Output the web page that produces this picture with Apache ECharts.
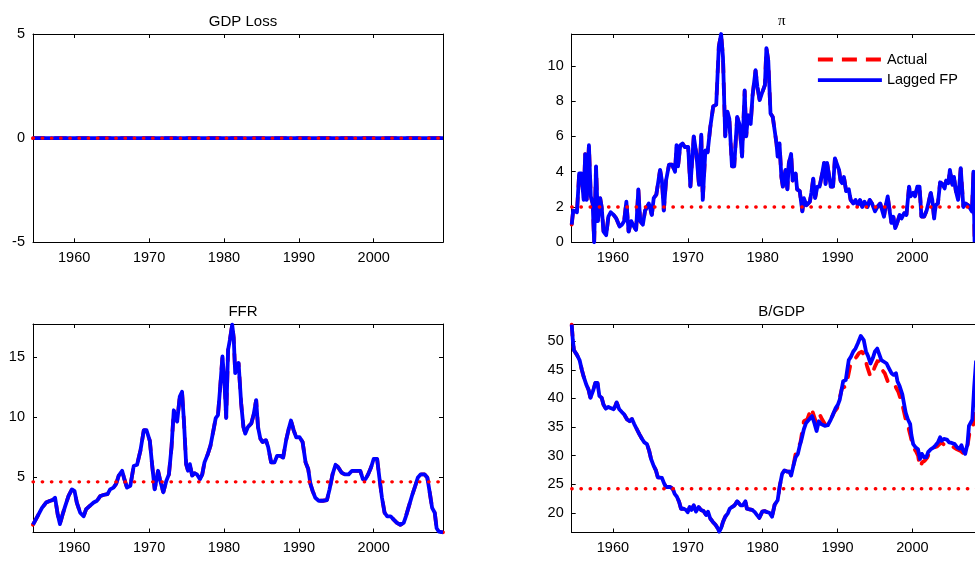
<!DOCTYPE html>
<html>
<head>
<meta charset="utf-8">
<script src="https://cdn.jsdelivr.net/npm/echarts@6/dist/echarts.min.js"></script>
<style>
  html, body { margin: 0; padding: 0; background: #fff; overflow: hidden; }
  /* a bit wider than the window: the right column is cut by the page edge */
  #chart { width: 990px; height: 561px; }
</style>
</head>
<body>
<div id="chart"></div>
<script>
// x range of every panel (quarterly sample)
const xMin = 1954.5;
const xMax = 2009.25;
const yearTicks = [1960, 1970, 1980, 1990, 2000];

const panelTitles = ['GDP Loss', 'π', 'FFR', 'B/GDP'];
const yTicks = [[-5, 0, 5], [0, 2, 4, 6, 8, 10], [5, 10, 15], [20, 25, 30, 35, 40, 45, 50]];
const yRanges = [[-5, 5], [0, 11.8], [0.35, 17.75], [16.55, 53]];
const steadyState = [0, 2, 4.58, 24.2];

// GDP loss: both paths sit at zero
const gdpLoss = [[1954.5, 0], [2009.25, 0]];

// inflation, actual and lagged FP coincide
const piData = [
  [1954.5, 1.0], [1954.7, 1.8], [1955.2, 1.7], [1955.5, 3.9], [1955.8, 3.9], [1956.1, 2.4], [1956.3, 5.0],
  [1956.5, 2.4], [1956.8, 5.5], [1957.05, 2.6], [1957.3, 2.2], [1957.5, 0.0], [1957.75, 4.3], [1958.0, 1.2],
  [1958.3, 2.5], [1958.5, 2.0], [1958.75, 0.6], [1959.1, 0.4], [1959.4, 1.45], [1959.7, 1.7], [1960.1, 1.55],
  [1960.45, 1.35], [1960.9, 0.9], [1961.2, 1.0], [1961.5, 1.2], [1961.8, 2.3], [1962.1, 0.6], [1962.45, 1.2],
  [1962.8, 0.9], [1963.1, 0.7], [1963.4, 3.0], [1963.65, 1.2], [1964.0, 1.0], [1964.3, 1.8], [1964.8, 2.2],
  [1965.2, 1.55], [1965.45, 2.5], [1965.8, 2.7], [1966.3, 4.1], [1966.55, 3.5], [1966.8, 1.8], [1967.1, 3.5],
  [1967.5, 4.4], [1967.9, 4.4], [1968.3, 4.0], [1968.5, 5.5], [1968.7, 4.3], [1969.0, 5.5], [1969.3, 5.6],
  [1969.6, 5.4], [1969.8, 5.5], [1970.05, 5.4], [1970.35, 3.15], [1970.8, 6.0], [1971.15, 5.0], [1971.5, 3.25],
  [1971.8, 6.1], [1972.0, 2.4], [1972.35, 5.2], [1972.65, 5.1], [1973.0, 6.5], [1973.4, 7.7], [1973.8, 7.8],
  [1974.15, 11.1], [1974.45, 11.8], [1974.7, 10.5], [1975.0, 6.0], [1975.3, 7.4], [1975.55, 7.0], [1975.9, 4.3],
  [1976.2, 4.3], [1976.6, 7.1], [1976.9, 6.7], [1977.25, 4.85], [1977.6, 8.6], [1977.8, 6.0], [1978.05, 7.2],
  [1978.4, 6.7], [1978.65, 8.3], [1978.9, 8.25], [1979.05, 9.75], [1979.3, 8.8], [1979.6, 8.05], [1979.95, 8.5],
  [1980.3, 8.9], [1980.5, 11.0], [1980.75, 10.3], [1981.05, 7.3], [1981.35, 7.1], [1981.6, 7.1], [1981.85, 5.6],
  [1982.0, 4.85], [1982.25, 5.6], [1982.5, 3.7], [1982.7, 3.15], [1983.05, 4.1], [1983.3, 3.0], [1983.5, 4.5],
  [1983.8, 5.0], [1984.0, 3.5], [1984.4, 3.9], [1984.6, 3.0], [1984.95, 2.9], [1985.3, 1.75], [1985.5, 2.5],
  [1985.85, 2.1], [1986.3, 2.3], [1986.5, 2.8], [1986.75, 3.6], [1987.0, 2.5], [1987.3, 3.15], [1987.6, 3.15],
  [1987.95, 3.9], [1988.2, 4.5], [1988.4, 3.3], [1988.6, 4.5], [1988.85, 4.5], [1989.1, 3.15], [1989.4, 3.15],
  [1989.65, 4.75], [1989.9, 4.75], [1990.2, 4.1], [1990.4, 3.5], [1990.6, 3.35], [1990.85, 3.7], [1991.15, 2.9],
  [1991.5, 3.0], [1991.75, 2.4], [1992.1, 2.2], [1992.4, 2.4], [1992.7, 2.1], [1993.0, 2.4], [1993.3, 2.0],
  [1993.6, 2.3], [1994.0, 2.0], [1994.3, 2.4], [1994.6, 2.2], [1995.0, 1.75], [1995.3, 2.0], [1995.7, 2.2],
  [1996.0, 1.75], [1996.2, 1.45], [1996.4, 2.0], [1996.7, 2.6], [1997.0, 1.65], [1997.2, 1.1], [1997.45, 1.45],
  [1997.7, 0.8], [1998.0, 1.15], [1998.3, 1.55], [1998.55, 1.35], [1998.9, 1.65], [1999.2, 1.55], [1999.55, 3.15],
  [1999.75, 2.6], [2000.1, 2.8], [2000.35, 2.6], [2000.65, 3.15], [2000.95, 3.15], [2001.2, 1.45], [2001.55, 1.45],
  [2001.9, 1.8], [2002.1, 1.9], [2002.45, 2.8], [2002.65, 2.4], [2002.9, 1.35], [2003.1, 2.1], [2003.4, 2.2],
  [2003.7, 3.4], [2004.0, 3.3], [2004.3, 3.05], [2004.5, 3.5], [2004.8, 3.35], [2005.0, 4.1], [2005.35, 3.25],
  [2005.55, 3.7], [2005.8, 2.9], [2006.1, 2.4], [2006.45, 4.2], [2006.8, 2.0], [2007.1, 2.2], [2007.45, 2.1],
  [2007.7, 2.2], [2007.95, 1.75], [2008.15, 4.0], [2008.3, 0.0]
];

// federal funds rate, actual and lagged FP coincide
const ffrData = [
  [1954.5, 1.0], [1955.1, 1.7], [1955.7, 2.4], [1956.25, 2.85], [1956.8, 3.0], [1957.1, 3.05], [1957.45, 3.25],
  [1957.8, 1.85], [1958.1, 1.05], [1958.45, 1.85], [1958.8, 2.55], [1959.25, 3.4], [1959.7, 3.95], [1960.05, 3.8],
  [1960.35, 2.85], [1960.8, 2.0], [1961.25, 1.7], [1961.6, 2.3], [1962.05, 2.55], [1962.6, 2.85], [1963.05, 3.0],
  [1963.5, 3.4], [1964.0, 3.5], [1964.45, 3.55], [1964.8, 3.95], [1965.25, 4.1], [1965.6, 4.4], [1965.95, 5.1],
  [1966.4, 5.5], [1966.7, 4.8], [1967.05, 4.1], [1967.5, 4.25], [1967.95, 5.9], [1968.4, 6.0], [1968.85, 7.2],
  [1969.3, 8.9], [1969.65, 8.9], [1970.1, 8.0], [1970.4, 6.05], [1970.75, 3.95], [1971.2, 5.5], [1971.5, 4.65],
  [1971.9, 3.7], [1972.3, 4.65], [1972.65, 5.2], [1973.0, 7.5], [1973.3, 10.55], [1973.75, 9.6], [1974.1, 11.7],
  [1974.4, 12.1], [1974.65, 9.7], [1974.95, 6.05], [1975.2, 5.5], [1975.45, 6.05], [1975.75, 5.1], [1976.05, 5.3],
  [1976.4, 5.2], [1976.8, 4.8], [1977.1, 5.2], [1977.4, 6.2], [1977.85, 6.9], [1978.2, 7.6], [1978.6, 8.9],
  [1978.9, 9.9], [1979.2, 10.15], [1979.5, 12.5], [1979.8, 15.05], [1980.1, 12.5], [1980.3, 9.9], [1980.55, 15.6],
  [1980.8, 16.45], [1981.1, 17.7], [1981.3, 16.6], [1981.5, 13.65], [1981.95, 14.5], [1982.3, 11.1], [1982.6, 9.15],
  [1982.85, 8.6], [1983.2, 9.15], [1983.65, 9.45], [1983.95, 10.15], [1984.3, 11.4], [1984.55, 9.15], [1984.85, 8.2],
  [1985.15, 7.9], [1985.6, 8.05], [1985.9, 7.5], [1986.3, 6.2], [1986.75, 6.2], [1987.1, 6.75], [1987.55, 6.75],
  [1987.9, 6.6], [1988.3, 8.05], [1988.65, 9.0], [1988.95, 9.7], [1989.3, 8.9], [1989.65, 8.3], [1990.1, 8.3],
  [1990.5, 7.9], [1990.9, 6.2], [1991.25, 5.65], [1991.55, 4.4], [1991.85, 3.8], [1992.2, 3.25], [1992.65, 3.0],
  [1993.2, 3.0], [1993.75, 3.05], [1994.1, 3.95], [1994.5, 5.2], [1994.9, 6.0], [1995.25, 5.8], [1995.7, 5.35],
  [1996.15, 5.2], [1996.65, 5.2], [1997.1, 5.5], [1997.65, 5.5], [1998.2, 5.5], [1998.55, 4.8], [1998.9, 4.8],
  [1999.25, 5.2], [1999.65, 5.8], [2000.0, 6.5], [2000.45, 6.5], [2000.75, 4.95], [2001.1, 3.25], [2001.45, 2.0],
  [2001.8, 1.7], [2002.25, 1.7], [2002.7, 1.4], [2003.1, 1.15], [2003.55, 1.0], [2004.0, 1.15], [2004.3, 1.7],
  [2004.7, 2.55], [2005.1, 3.4], [2005.55, 4.25], [2005.9, 4.95], [2006.25, 5.2], [2006.8, 5.2], [2007.15, 4.95],
  [2007.45, 3.8], [2007.8, 2.4], [2008.15, 2.0], [2008.4, 0.7], [2008.7, 0.42], [2009.25, 0.37]
];

// debt to GDP: same path for both until 1984
const bgdpCommon = [
  [1954.5, 52.9], [1954.65, 50.2], [1954.8, 48.4], [1955.2, 47.6], [1955.55, 46.7], [1955.85, 45.0], [1956.1, 43.8],
  [1956.45, 42.4], [1956.75, 41.5], [1957.0, 40.1], [1957.2, 40.2], [1957.4, 41.5], [1957.65, 42.7], [1957.95, 42.7],
  [1958.2, 40.4], [1958.5, 40.1], [1958.75, 38.9], [1959.05, 38.2], [1959.4, 38.5], [1959.7, 38.3], [1960.1, 38.1],
  [1960.3, 38.6], [1960.5, 39.3], [1960.85, 38.1], [1961.2, 37.6], [1961.5, 37.2], [1961.9, 36.3], [1962.25, 36.0],
  [1962.55, 36.4], [1962.85, 35.5], [1963.2, 34.6], [1963.55, 33.7], [1963.9, 32.9], [1964.2, 32.3], [1964.55, 32.0],
  [1964.85, 30.8], [1965.1, 29.4], [1965.45, 28.2], [1965.75, 27.4], [1966.0, 26.2], [1966.25, 25.9], [1966.55, 26.1],
  [1966.85, 25.1], [1967.1, 24.5], [1967.35, 24.8], [1967.65, 24.5], [1968.0, 24.2], [1968.25, 23.3], [1968.55, 22.8],
  [1968.85, 21.9], [1969.1, 20.7], [1969.45, 20.7], [1969.75, 20.5], [1970.0, 20.1], [1970.25, 21.0], [1970.5, 20.5],
  [1970.8, 21.3], [1971.1, 20.2], [1971.45, 21.0], [1971.75, 20.5], [1972.1, 20.3], [1972.45, 19.6], [1972.7, 20.2],
  [1973.0, 19.0], [1973.35, 18.4], [1973.7, 17.9], [1974.0, 17.3], [1974.2, 16.7], [1974.45, 17.3], [1974.7, 18.4],
  [1975.0, 19.3], [1975.35, 19.9], [1975.6, 20.7], [1975.9, 21.0], [1976.25, 21.3], [1976.6, 22.0], [1976.8, 22.0],
  [1977.05, 21.3], [1977.35, 21.3], [1977.7, 22.0], [1977.9, 20.7], [1978.25, 20.6], [1978.6, 20.5], [1978.95, 20.1],
  [1979.25, 19.6], [1979.55, 19.1], [1979.95, 20.2], [1980.25, 20.3], [1980.6, 20.1], [1980.9, 20.0], [1981.25, 19.3],
  [1981.6, 21.4], [1982.0, 22.2], [1982.3, 24.8], [1982.6, 26.8], [1982.9, 27.4], [1983.25, 27.2], [1983.6, 27.2],
  [1983.8, 26.5], [1984.1, 28.2]
];
const bgdpActualLate = [
  [1984.4, 30.3], [1985.05, 32.3], [1985.5, 36.0], [1985.95, 36.3], [1986.5, 38.3], [1986.75, 38.1], [1987.15, 35.7],
  [1987.6, 37.2], [1987.95, 36.3], [1988.4, 35.3], [1989.0, 36.0], [1989.5, 37.5], [1989.95, 38.3], [1990.6, 41.8],
  [1991.1, 42.1], [1991.4, 43.8], [1991.75, 46.1], [1992.2, 46.7], [1992.55, 47.3], [1992.85, 47.9], [1993.3, 48.2],
  [1993.6, 47.3], [1993.95, 45.6], [1994.4, 43.8], [1994.65, 44.4], [1995.0, 45.6], [1995.4, 46.7], [1995.75, 45.3],
  [1996.3, 44.4], [1996.7, 43.0], [1997.2, 42.4], [1997.6, 42.4], [1998.1, 41.2], [1998.45, 39.8], [1998.8, 38.1],
  [1999.1, 36.3], [1999.4, 35.2], [1999.75, 33.4], [2000.1, 31.4], [2000.45, 30.8], [2000.75, 30.0], [2001.0, 28.0],
  [2001.3, 28.8], [2001.65, 29.1], [2002.0, 29.7], [2002.35, 30.8], [2002.8, 31.4], [2003.3, 31.6], [2003.85, 32.3],
  [2004.45, 31.7], [2005.1, 31.8], [2005.8, 31.2], [2006.45, 30.8], [2006.9, 30.3], [2007.35, 31.7], [2007.7, 34.6],
  [2008.0, 34.9], [2008.25, 36.0], [2008.5, 40.5]
];
const bgdpLaggedLate = [
  [1984.4, 29.7], [1984.7, 30.3], [1984.95, 31.7], [1985.2, 32.9], [1985.5, 34.6], [1985.8, 35.7], [1986.2, 36.3],
  [1986.6, 36.9], [1986.9, 35.7], [1987.2, 34.3], [1987.5, 36.0], [1987.8, 35.5], [1988.3, 35.2], [1988.7, 35.3],
  [1989.1, 36.3], [1989.4, 37.2], [1989.75, 38.3], [1990.05, 38.9], [1990.3, 39.8], [1990.5, 41.2], [1990.75, 43.0],
  [1991.1, 43.2], [1991.3, 45.0], [1991.5, 46.7], [1991.8, 47.3], [1992.1, 48.2], [1992.4, 48.7], [1992.7, 49.6],
  [1993.1, 50.9], [1993.3, 51.0], [1993.5, 50.2], [1993.8, 48.2], [1994.1, 47.3], [1994.4, 46.1], [1994.7, 47.0],
  [1995.0, 48.2], [1995.3, 48.7], [1995.5, 48.6], [1995.85, 46.7], [1996.2, 46.4], [1996.55, 46.1], [1996.85, 45.3],
  [1997.2, 44.4], [1997.5, 44.1], [1997.8, 44.4], [1998.0, 43.0], [1998.3, 42.1], [1998.65, 40.7], [1998.9, 38.9],
  [1999.1, 37.5], [1999.4, 36.3], [1999.7, 35.5], [1999.85, 33.7], [2000.1, 32.0], [2000.45, 31.4], [2000.75, 31.1],
  [2001.0, 29.4], [2001.25, 30.3], [2001.55, 29.7], [2001.85, 29.7], [2002.1, 30.6], [2002.45, 31.1], [2002.8, 31.4],
  [2003.1, 31.8], [2003.4, 32.3], [2003.7, 33.2], [2003.9, 32.6], [2004.2, 32.9], [2004.6, 32.8], [2004.9, 32.3],
  [2005.25, 32.2], [2005.65, 32.0], [2006.0, 31.4], [2006.3, 31.2], [2006.55, 31.8], [2006.8, 30.8], [2007.05, 30.3],
  [2007.35, 32.0], [2007.55, 35.2], [2007.8, 35.2], [2008.0, 36.3], [2008.25, 42.1], [2008.5, 46.6]
];

const actualSeries = [gdpLoss, piData, ffrData, bgdpCommon.concat(bgdpActualLate)];
const laggedSeries = [gdpLoss, piData, ffrData, bgdpCommon.concat(bgdpLaggedLate)];

// subplot boxes (right column runs past the page edge, as in the picture)
const grids = [
  { left: 33, top: 34, width: 410, height: 208.3 },
  { left: 571.7, top: 34, width: 410, height: 208.3 },
  { left: 33, top: 324, width: 410, height: 208.5 },
  { left: 571.7, top: 324, width: 410, height: 208.5 }
];

const font = 'Liberation Sans, Arial, sans-serif';
const ink = '#000';
const actualDash = [11, 11];

var chart = echarts.init(document.getElementById('chart'), null, { renderer: 'canvas' });

var xAxes = [], yAxes = [], series = [], titles = [];

grids.forEach(function (g, i) {
  ['bottom', 'top'].forEach(function (pos) {
    xAxes.push({
      type: 'value', gridIndex: i, position: pos, min: xMin, max: xMax,
      axisLine: { show: true, onZero: false, lineStyle: { color: ink, width: 1 } },
      axisTick: { show: true, inside: true, length: 4, customValues: yearTicks, lineStyle: { color: ink } },
      axisLabel: {
        show: pos === 'bottom', customValues: yearTicks, margin: 8,
        formatter: function (v) { return String(v); },
        color: ink, fontFamily: font, fontSize: 14.5
      },
      splitLine: { show: false }
    });
  });
  ['left', 'right'].forEach(function (pos) {
    yAxes.push({
      type: 'value', gridIndex: i, position: pos, min: yRanges[i][0], max: yRanges[i][1],
      axisLine: { show: true, onZero: false, lineStyle: { color: ink, width: 1 } },
      axisTick: { show: true, inside: true, length: 4, customValues: yTicks[i], lineStyle: { color: ink } },
      axisLabel: {
        show: pos === 'left', customValues: yTicks[i], margin: 8,
        formatter: function (v) { return String(v); },
        color: ink, fontFamily: font, fontSize: 14.5
      },
      splitLine: { show: false }
    });
  });

  titles.push({
    text: panelTitles[i],
    left: g.left + g.width / 2,
    top: g.top - 25,
    textAlign: 'center',
    textStyle: {
      fontFamily: panelTitles[i] === 'π' ? 'Liberation Serif, serif' : font,
      fontSize: 15, fontWeight: 'normal', color: ink
    }
  });

  series.push({
    name: 'Actual', type: 'line', xAxisIndex: 2 * i, yAxisIndex: 2 * i,
    data: actualSeries[i], symbol: 'none', silent: true,
    itemStyle: { color: '#ff0000' },
    lineStyle: { color: '#ff0000', width: 3.8, type: actualDash, cap: 'round' }
  });
  series.push({
    name: 'Lagged FP', type: 'line', xAxisIndex: 2 * i, yAxisIndex: 2 * i,
    data: laggedSeries[i], symbol: 'none', silent: true,
    itemStyle: { color: '#0000ff' },
    lineStyle: { color: '#0000ff', width: 3.8, type: 'solid', join: 'round' }
  });
  series.push({
    name: 'steady', type: 'line', xAxisIndex: 2 * i, yAxisIndex: 2 * i,
    data: [[xMin, steadyState[i]], [xMax, steadyState[i]]],
    symbol: 'none', silent: true,
    lineStyle: { color: '#ff0000', width: 3.3, type: [0.5, 8.7], cap: 'round' }
  });
});

var option = {
  animation: false,
  backgroundColor: '#fff',
  title: titles,
  legend: {
    data: [
      { name: 'Actual', lineStyle: { color: '#ff0000', width: 3.8, type: [15, 9], cap: 'butt' } },
      { name: 'Lagged FP', lineStyle: { color: '#0000ff', width: 3.8, type: 'solid', cap: 'butt' } }
    ],
    orient: 'vertical',
    left: 816, top: 52, padding: 0,
    itemWidth: 64, itemHeight: 14, itemGap: 5.7,
    selectedMode: false,
    itemStyle: { opacity: 0 },
    textStyle: { fontFamily: font, fontSize: 14.5, color: ink, lineHeight: 14 }
  },
  grid: grids,
  xAxis: xAxes,
  yAxis: yAxes,
  series: series
};

option && chart.setOption(option);
</script>
</body>
</html>
